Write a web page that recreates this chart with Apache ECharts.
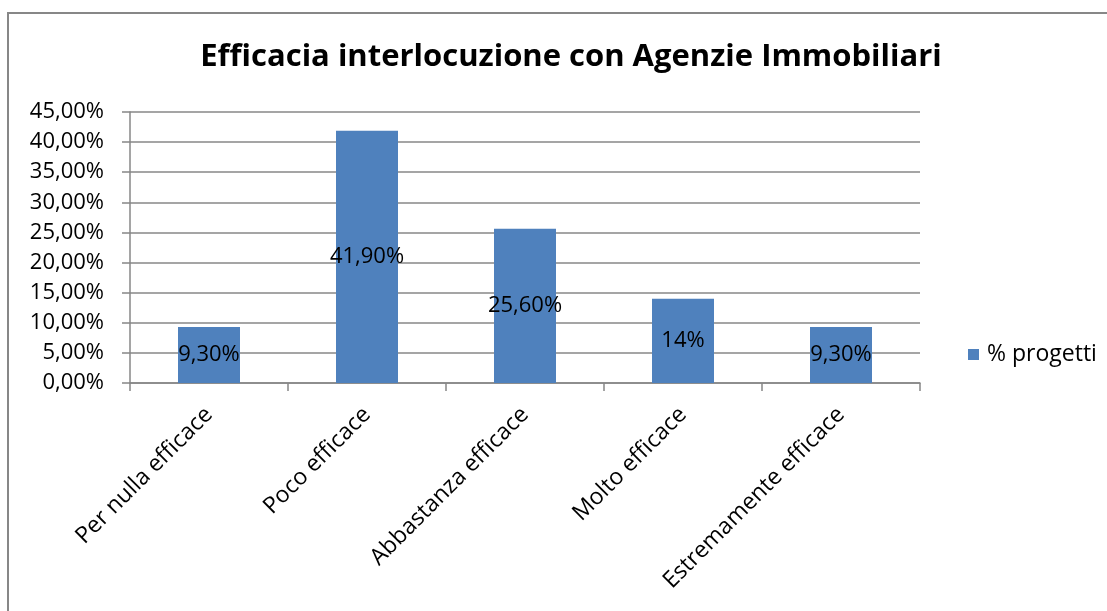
<!DOCTYPE html>
<html>
<head>
<meta charset="utf-8">
<script src="https://cdn.jsdelivr.net/npm/echarts@6/dist/echarts.min.js"></script>
<style>
html,body{margin:0;padding:0;background:#fff;}
#c{width:1107px;height:611px;}
</style>
</head>
<body>
<div id="c"></div>
<script>
const titleText = 'Efficacia interlocuzione con Agenzie Immobiliari';
const categories = ['Per nulla efficace', 'Poco efficace', 'Abbastanza efficace', 'Molto efficace', 'Estremamente efficace'];
const seriesName = '% progetti';
const values = [9.30, 41.90, 25.60, 14, 9.30];
const valueLabels = ['9,30%', '41,90%', '25,60%', '14%', '9,30%'];
const yTickLabels = ['0,00%', '5,00%', '10,00%', '15,00%', '20,00%', '25,00%', '30,00%', '35,00%', '40,00%', '45,00%'];

const FONT = 'Open Sans';
const GRAY = '#878787';
const chart = echarts.init(document.getElementById('c'), null, {renderer: 'canvas'});
chart.setOption({
  animation: false,
  backgroundColor: '#fff',
  graphic: [{
    type: 'rect',
    shape: {x: 8, y: 13, width: 1300, height: 800},
    style: {fill: 'none', stroke: GRAY, lineWidth: 2},
    silent: true
  }],
  title: {
    text: titleText,
    left: 566,
    textAlign: 'center',
    top: 37,
    textStyle: {fontFamily: FONT, fontWeight: 'bold', fontSize: 31, color: '#000'}
  },
  legend: {
    data: [seriesName],
    left: 963,
    top: 338,
    icon: 'rect',
    itemWidth: 11,
    itemHeight: 11,
    textStyle: {fontFamily: FONT, fontSize: 23, color: '#000', padding: [0, 0, 0, 3]}
  },
  grid: {left: 130, right: 187, top: 112, bottom: 228, containLabel: false},
  xAxis: {
    type: 'category',
    data: categories,
    axisLine: {lineStyle: {color: GRAY, width: 1.5}},
    axisTick: {show: true, length: 8, alignWithLabel: false, lineStyle: {color: GRAY, width: 1.5}},
    axisLabel: {rotate: 45, margin: 28, fontFamily: FONT, fontSize: 23, color: '#000', interval: 0}
  },
  yAxis: {
    type: 'value',
    min: 0,
    max: 45,
    interval: 5,
    axisLine: {show: true, lineStyle: {color: GRAY, width: 1.5}},
    axisTick: {show: true, length: 8, lineStyle: {color: GRAY, width: 1.5}},
    splitLine: {show: true, lineStyle: {color: GRAY, width: 1.5}},
    axisLabel: {
      margin: 26,
      fontFamily: FONT, fontSize: 22, color: '#000',
      formatter: function (v) { return yTickLabels[Math.round(v / 5)]; }
    }
  },
  series: [{
    name: seriesName,
    type: 'bar',
    data: values,
    barWidth: 62,
    itemStyle: {color: '#4F81BD'},
    label: {
      show: true,
      position: 'inside',
      fontFamily: FONT, fontSize: 22, color: '#000',
      formatter: function (p) { return valueLabels[p.dataIndex]; }
    }
  }]
});
</script>
</body>
</html>
